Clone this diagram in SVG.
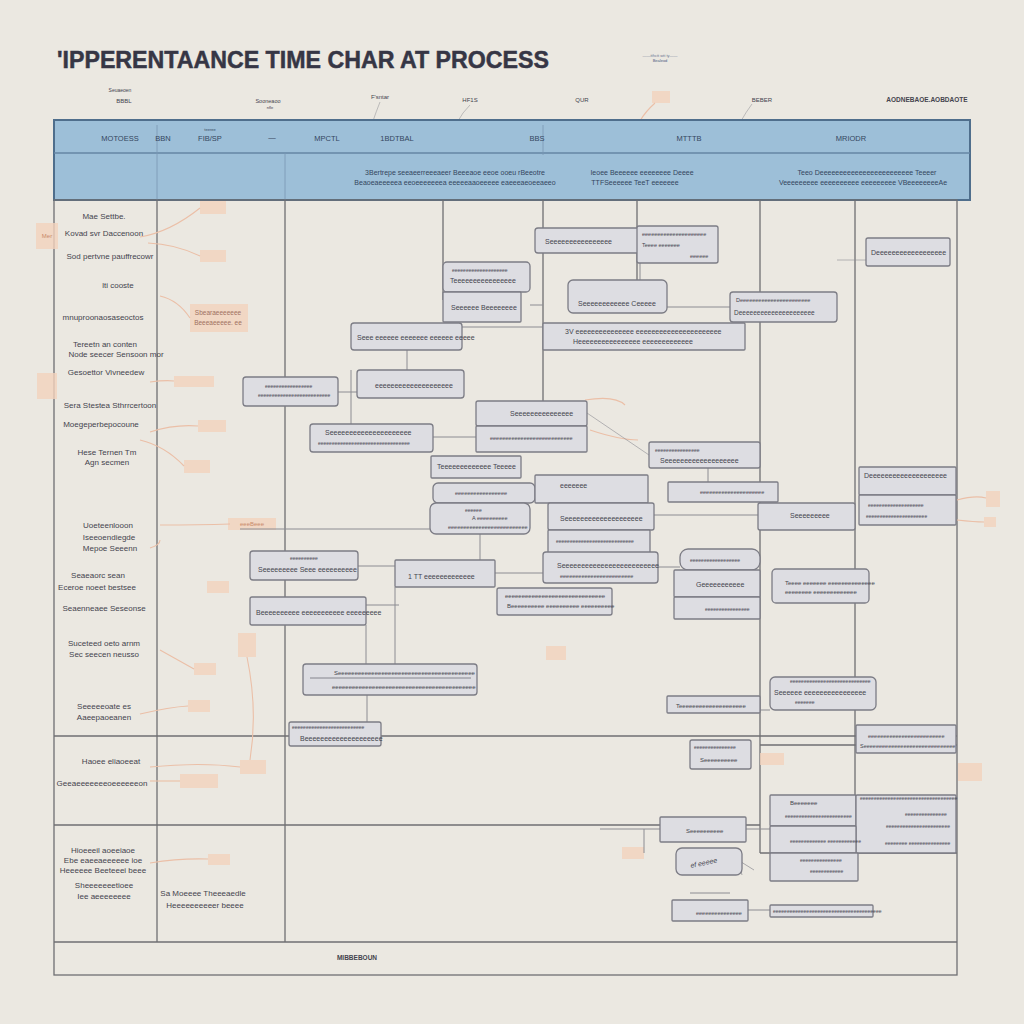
<svg xmlns="http://www.w3.org/2000/svg" width="1024" height="1024" viewBox="0 0 1024 1024">
<style>
.t{font-family:"Liberation Sans",Arial,sans-serif;fill:#45454f;font-size:7px}
.tl{font-family:"Liberation Sans",Arial,sans-serif;fill:#44444e;font-size:8px;text-anchor:middle}
.th{font-family:"Liberation Sans",Arial,sans-serif;fill:#34465e;font-size:7.5px;text-anchor:middle}
.to{font-family:"Liberation Sans",Arial,sans-serif;fill:#c98a6a;font-size:6px;text-anchor:middle}
.box{fill:#dddde2;stroke:#7c7c85;stroke-width:1.3}
.tag{fill:#f2d2bd;opacity:.8}
.grid{stroke:#6f6f72;stroke-width:1.3;fill:none}
.con{stroke:#8c8c92;stroke-width:1;fill:none}
.oc{stroke:#ebbfa7;stroke-width:1.1;fill:none}
.rule{stroke:#70707a;stroke-width:.8}
</style>
<rect width="1024" height="1024" fill="#ebe8e1"/>

<g id="title">
<text x="57" y="68" font-family="Liberation Sans,Arial,sans-serif" font-weight="bold" font-size="24" fill="#363645" stroke="#363645" stroke-width=".5" textLength="492" lengthAdjust="spacingAndGlyphs">'IPPERENTAANCE TIME CHAR AT PROCESS</text>
<text x="660" y="57" class="to" style="fill:#6a7590;font-size:4px">——tthctt wtt ty——</text>
<text x="660" y="62" class="to" style="fill:#4a5a80;font-size:4px">Bealeod</text>
</g>

<g id="top-labels">
<text x="120" y="92" class="tl" style="font-size:5px">Seuaeoen</text>
<text x="124" y="103" class="tl" style="font-size:6px">BBBL</text>
<text x="268" y="103" class="tl" style="font-size:5.5px">Sooneaoo</text>
<text x="270" y="109" class="tl" style="font-size:4px">nfle</text>
<text x="380" y="99" class="tl" style="font-size:6px">F'sntar</text>
<text x="470" y="102" class="tl" style="font-size:6px">HF1S</text>
<text x="582" y="102" class="tl" style="font-size:6px">QUR</text>
<rect x="652" y="91" width="18" height="12" class="tag"/>
<text x="762" y="102" class="tl" style="font-size:6px">BEBER</text>
<text x="927" y="102" class="tl" style="font-size:6.5px;font-weight:bold">AODNEBAOE.AOBDAOTE</text>
<path d="M655 103 Q645 112 640 121" class="oc"/>
<path d="M380 102 Q376 112 373 121" class="con" opacity=".5"/>
<path d="M470 105 Q462 113 458 121" class="con" opacity=".5"/>
<path d="M752 104 Q746 112 741 121" class="con" opacity=".5"/>
</g>

<g id="header">
<rect x="54" y="120" width="916" height="80" fill="#9dbfd8" stroke="#4f6e8c" stroke-width="2"/>
<line x1="54" y1="153" x2="970" y2="153" stroke="#6686a5" stroke-width="1.5"/>
<g stroke="#7a98b4" stroke-width=".8">
<line x1="157" y1="125" x2="157" y2="200"/><line x1="285" y1="153" x2="285" y2="200"/>
<line x1="543" y1="125" x2="543" y2="155"/>
</g>
<text x="120" y="141" class="th">MOTOESS</text>
<text x="163" y="141" class="th">BBN</text>
<text x="210" y="131" class="th" style="font-size:4px">teeree</text>
<text x="210" y="141" class="th">FIB/SP</text>
<text x="272" y="140" class="th">—</text>
<text x="327" y="141" class="th">MPCTL</text>
<text x="397" y="141" class="th">1BDTBAL</text>
<text x="537" y="141" class="th">BBS</text>
<text x="689" y="141" class="th">MTTTB</text>
<text x="851" y="141" class="th">MRIODR</text>
<text x="455" y="175" class="th" style="font-size:7px">3Bertrepe seeaeerreeeaeer Beeeaoe eeoe ooeu rBeeotre</text>
<text x="455" y="185" class="th" style="font-size:7px">Beaoeaeeeeea eeoeeeeeeea eeeeeaaoeeeee eaeeeaeoeeaeeo</text>
<text x="642" y="175" class="th" style="font-size:7px">Ieoee Beeeeee eeeeeeee Deeee</text>
<text x="635" y="185" class="th" style="font-size:7px">TTFSeeeeee TeeT eeeeeee</text>
<text x="867" y="175" class="th" style="font-size:7px">Teeo Deeeeeeeeeeeeeeeeeeeeeeee Teeeer</text>
<text x="863" y="185" class="th" style="font-size:7px">Veeeeeeeee eeeeeeeeee eeeeeeeee VBeeeeeeeeAe</text>
</g>

<g id="grid">
<rect x="54" y="200" width="903" height="775" class="grid"/>
<line x1="157" y1="200" x2="157" y2="942" class="grid"/>
<line x1="285" y1="200" x2="285" y2="942" class="grid"/>
<line x1="443" y1="200" x2="443" y2="300" class="grid" stroke-width="1"/>
<line x1="543" y1="200" x2="543" y2="420" class="grid" stroke-width="1"/>
<line x1="637" y1="200" x2="637" y2="290" class="grid" stroke-width="1"/>
<line x1="760" y1="200" x2="760" y2="853" class="grid" stroke-width="1"/>
<line x1="855" y1="200" x2="855" y2="855" class="grid" stroke-width="1"/>
<line x1="54" y1="736" x2="957" y2="736" class="grid"/>
<line x1="54" y1="825" x2="760" y2="825" class="grid"/>
<line x1="54" y1="942" x2="957" y2="942" class="grid"/>
<line x1="760" y1="745" x2="957" y2="745" class="grid" stroke-width="1"/>
<line x1="760" y1="853" x2="957" y2="853" class="grid" stroke-width="1"/>
<text x="357" y="960" class="tl" style="font-size:6.5px;font-weight:bold">MIBBEBOUN</text>
</g>

<g id="lane-labels">
<text x="104" y="219" class="tl">Mae Settbe.</text>
<text x="104" y="236" class="tl">Kovad svr Daccenoon</text>
<text x="110" y="259" class="tl">Sod pertvne pauffrecowr</text>
<text x="118" y="288" class="tl">lti cooste</text>
<text x="103" y="320" class="tl">mnuproonaosaseoctos</text>
<text x="105" y="347" class="tl">Tereetn an conten</text>
<text x="116" y="357" class="tl">Node seecer Sensoon mor</text>
<text x="106" y="375" class="tl">Gesoettor Vivneedew</text>
<text x="110" y="408" class="tl">Sera Stestea Sthrrcertoon</text>
<text x="101" y="427" class="tl">Moegeperbepocoune</text>
<text x="107" y="455" class="tl">Hese Ternen Tm</text>
<text x="107" y="465" class="tl">Agn  secmen</text>
<text x="108" y="528" class="tl">Uoeteenlooon</text>
<text x="109" y="540" class="tl">Iseeoendiegde</text>
<text x="110" y="551" class="tl">Mepoe Seeenn</text>
<text x="98" y="578" class="tl">Seaeaorc sean</text>
<text x="97" y="590" class="tl">Eceroe noeet bestsee</text>
<text x="104" y="611" class="tl">Seaenneaee Seseonse</text>
<text x="104" y="646" class="tl">Suceteed oeto arnm</text>
<text x="104" y="657" class="tl">Sec seecen neusso</text>
<text x="104" y="709" class="tl">Seeeeeoate es</text>
<text x="104" y="720" class="tl">Aaeepaoeanen</text>
<text x="111" y="764" class="tl">Haoee eliaoeeat</text>
<text x="102" y="786" class="tl">Geeaeeeeeeeoeeeeeeon</text>
<text x="103" y="853" class="tl">Hioeeeil aoeeiaoe</text>
<text x="103" y="863" class="tl">Ebe eaeeaeeeeee ioe</text>
<text x="103" y="873" class="tl">Heeeeee Beeteeei beee</text>
<text x="104" y="888" class="tl">Sheeeeeeetioee</text>
<text x="104" y="899" class="tl">Iee aeeeeeeee</text>
<text x="203" y="896" class="tl">Sa Moeeee Theeeaedle</text>
<text x="205" y="908" class="tl">Heeeeeeeeeer beeee</text>
</g>

<g id="tags">
<rect x="36" y="223" width="22" height="26" class="tag"/><text x="47" y="238" class="to">Mer</text>
<rect x="200" y="201" width="26" height="13" class="tag"/>
<rect x="200" y="250" width="26" height="12" class="tag"/>
<rect x="190" y="304" width="58" height="28" class="tag"/>
<text x="218" y="315" class="to" style="fill:#a07060;font-size:6.5px">Sbearaeeeeeee</text>
<text x="218" y="325" class="to" style="fill:#a07060;font-size:6.5px">Beeeaeeeee. ee</text>
<rect x="37" y="373" width="20" height="26" class="tag"/>
<rect x="174" y="376" width="40" height="11" class="tag"/>
<rect x="198" y="420" width="28" height="12" class="tag"/>
<rect x="184" y="460" width="26" height="13" class="tag"/>
<rect x="228" y="518" width="48" height="12" class="tag"/><text x="252" y="526" class="to">eeeBeee</text>
<rect x="207" y="581" width="22" height="12" class="tag"/>
<rect x="238" y="633" width="18" height="24" class="tag"/>
<rect x="194" y="663" width="22" height="12" class="tag"/>
<rect x="188" y="700" width="22" height="12" class="tag"/>
<rect x="240" y="760" width="26" height="14" class="tag"/>
<rect x="180" y="774" width="38" height="14" class="tag"/>
<rect x="208" y="854" width="22" height="11" class="tag"/>
<rect x="546" y="646" width="20" height="14" class="tag"/>
<rect x="760" y="753" width="24" height="12" class="tag"/>
<rect x="622" y="847" width="22" height="12" class="tag"/>
<rect x="958" y="763" width="24" height="18" class="tag"/>
<rect x="986" y="491" width="14" height="16" class="tag"/>
<rect x="984" y="517" width="12" height="10" class="tag"/>
<rect x="813" y="575" width="14" height="12" class="tag"/>
</g>

<g id="connectors">
<path d="M140 237 Q170 232 200 208" class="oc"/>
<path d="M148 243 Q175 244 200 256" class="oc"/>
<path d="M160 296 Q178 300 190 318" class="oc"/>
<path d="M150 382 Q165 380 174 381" class="oc"/>
<path d="M150 432 Q175 424 198 426" class="oc"/>
<path d="M140 440 Q165 446 184 466" class="oc"/>
<path d="M150 548 Q160 545 160 540" class="oc"/>
<path d="M160 650 Q185 664 194 669" class="oc"/>
<path d="M140 714 Q170 707 188 706" class="oc"/>
<path d="M247 657 Q258 710 250 760" class="oc"/>
<path d="M150 767 Q200 762 240 767" class="oc"/>
<path d="M150 781 Q170 781 180 781" class="oc"/>
<path d="M150 863 Q180 858 208 859" class="oc"/>
<path d="M230 524 Q200 525 160 525" class="oc"/>
<path d="M585 400 Q615 395 625 405" class="oc"/>
<path d="M590 430 Q620 440 638 440" class="oc"/>
<path d="M957 520 Q975 522 984 522" class="oc"/>
<path d="M957 500 Q975 495 986 498" class="oc"/>

<line x1="407" y1="350" x2="407" y2="370" class="con"/>
<line x1="338" y1="392" x2="357" y2="392" class="con"/>
<line x1="351" y1="370" x2="351" y2="425" class="con"/>
<line x1="462" y1="327" x2="543" y2="327" class="con"/>
<line x1="530" y1="305" x2="543" y2="305" class="con"/>
<line x1="433" y1="437" x2="476" y2="437" class="con"/>
<line x1="587" y1="413" x2="649" y2="455" class="con" opacity=".6"/>
<line x1="240" y1="529" x2="430" y2="529" class="con"/>
<line x1="480" y1="534" x2="480" y2="560" class="con"/>
<line x1="358" y1="566" x2="395" y2="566" class="con"/>
<line x1="366" y1="605" x2="399" y2="605" class="con"/>
<line x1="366" y1="625" x2="366" y2="664" class="con"/>
<line x1="395" y1="587" x2="395" y2="664" class="con"/>
<line x1="367" y1="695" x2="367" y2="722" class="con"/>
<line x1="495" y1="573" x2="543" y2="573" class="con"/>
<line x1="654" y1="515" x2="758" y2="515" class="con"/>
<line x1="658" y1="567" x2="680" y2="567" class="con"/>
<line x1="715" y1="583" x2="715" y2="597" class="con"/>
<line x1="708" y1="468" x2="708" y2="482" class="con"/>
<line x1="667" y1="307" x2="730" y2="307" class="con"/>
<line x1="837" y1="260" x2="866" y2="260" class="con" opacity=".6"/>
<line x1="640" y1="258" x2="640" y2="280" class="con"/>
<line x1="760" y1="710" x2="770" y2="710" class="con"/>
<line x1="746" y1="829" x2="770" y2="829" class="con"/>
<line x1="660" y1="829" x2="600" y2="829" class="con"/>
<line x1="644" y1="829" x2="644" y2="853" class="con"/>
<line x1="748" y1="910" x2="770" y2="910" class="con"/>
<path d="M742 875 L738 860 L754 870" class="con" opacity=".7"/>
<line x1="690" y1="893" x2="730" y2="893" class="con"/>
</g>

<g id="n1"><rect x="535" y="228" width="108" height="25" rx="3" class="box"/><text x="545" y="244" class="t">Seeeeeeeeeeeeeeee</text></g>
<g id="n2"><rect x="637" y="226" width="81" height="37" rx="2" class="box"/><text x="642" y="236" class="t" style="font-size:5.5px">eeeeeeeeeeeeeeeeeeeee</text><text x="642" y="247" class="t" style="font-size:5.5px">Teeee eeeeeee</text><text x="690" y="258" class="t" style="font-size:5.5px">eeeeee</text></g>
<g id="n3"><rect x="443" y="262" width="87" height="30" rx="4" class="box"/><text x="452" y="272" class="t" style="font-size:5px">eeeeeeeeeeeeeeeeeeee</text><text x="450" y="283" class="t">Teeeeeeeeeeeeeeee</text></g>
<g id="n4"><rect x="443" y="292" width="78" height="30" rx="1" class="box"/><text x="451" y="310" class="t">Seeeeee Beeeeeeee</text></g>
<g id="n5"><rect x="568" y="280" width="99" height="33" rx="5" class="box"/><text x="578" y="306" class="t">Seeeeeeeeeeee  Ceeeee</text></g>
<g id="n6"><rect x="730" y="292" width="107" height="30" rx="3" class="box"/><text x="736" y="302" class="t" style="font-size:5.5px">Deeeeeeeeeeeeeeeeeeeeeee</text><text x="734" y="315" class="t" style="font-size:6.5px">Deeeeeeeeeeeeeeeeeeeee</text></g>
<g id="n7"><rect x="866" y="238" width="84" height="28" rx="2" class="box"/><text x="871" y="255" class="t">Deeeeeeeeeeeeeeeeee</text></g>
<g id="n8"><rect x="351" y="323" width="111" height="27" rx="3" class="box"/><text x="357" y="340" class="t">Seee eeeeee eeeeeee eeeeee eeeee</text></g>
<g id="n9"><rect x="543" y="323" width="202" height="27" rx="1" class="box"/><text x="565" y="334" class="t">3V eeeeeeeeeeeeeee eeeeeeeeeeeeeeeeeeeeee</text><text x="573" y="344" class="t">Heeeeeeeeeeeeeeee eeeeeeeeeeeee</text></g>
<g id="n10"><rect x="243" y="377" width="95" height="29" rx="3" class="box"/><text x="265" y="388" class="t" style="font-size:5px">eeeeeeeeeeeeeeeee</text><text x="258" y="397" class="t" style="font-size:5px">eeeeeeeeeeeeeeeeeeeeeeeeee</text></g>
<g id="n11"><rect x="357" y="370" width="107" height="28" rx="3" class="box"/><text x="375" y="388" class="t">eeeeeeeeeeeeeeeeeeee</text></g>
<g id="n12"><rect x="476" y="401" width="111" height="25" rx="2" class="box"/><text x="510" y="416" class="t">Seeeeeeeeeeeeeee</text></g>
<g id="n13"><rect x="476" y="426" width="111" height="26" rx="1" class="box"/><text x="490" y="440" class="t" style="font-size:5.5px">eeeeeeeeeeeeeeeeeeeeeeeeeee</text></g>
<g id="n14"><rect x="310" y="424" width="123" height="28" rx="3" class="box"/><text x="325" y="435" class="t">Seeeeeeeeeeeeeeeeeeeee</text><text x="318" y="445" class="t" style="font-size:5px">eeeeeeeeeeeeeeeeeeeeeeeeeeeeeeeee</text></g>
<g id="n15"><rect x="431" y="456" width="90" height="22" rx="1" class="box"/><text x="437" y="469" class="t">Teeeeeeeeeeeee Teeeee</text></g>
<g id="n16"><rect x="649" y="442" width="111" height="26" rx="2" class="box"/><text x="655" y="452" class="t" style="font-size:5px">eeeeeeeeeeeeeeee</text><text x="660" y="463" class="t">Seeeeeeeeeeeeeeeeeee</text></g>
<g id="n17"><rect x="668" y="482" width="110" height="20" rx="1" class="box"/><text x="700" y="494" class="t" style="font-size:5.5px">eeeeeeeeeeeeeeeeeeeee</text></g>
<g id="n18"><rect x="859" y="467" width="97" height="28" rx="1" class="box"/><text x="864" y="478" class="t">Deeeeeeeeeeeeeeeeeeee</text></g>
<g id="n19"><rect x="859" y="495" width="97" height="30" rx="1" class="box"/><text x="868" y="507" class="t" style="font-size:5px">eeeeeeeeeeeeeeeeeeee</text><text x="866" y="518" class="t" style="font-size:5px">eeeeeeeeeeeeeeeeeeeeee</text></g>
<g id="n20"><rect x="433" y="483" width="102" height="20" rx="5" class="box"/><text x="455" y="495" class="t" style="font-size:5.5px">eeeeeeeeeeeeeeeee</text></g>
<g id="n21"><rect x="535" y="475" width="113" height="28" rx="1" class="box"/><text x="560" y="488" class="t">eeeeeee</text></g>
<g id="n22"><rect x="430" y="503" width="100" height="31" rx="6" class="box"/><text x="465" y="512" class="t" style="font-size:5px">eeeeee</text><text x="472" y="520" class="t" style="font-size:5.5px">A   eeeeeeeeee</text><text x="448" y="529" class="t" style="font-size:5.5px">eeeeeeeeeeeeeeeeeeeeeeeeee</text></g>
<g id="n23"><rect x="548" y="503" width="106" height="27" rx="2" class="box"/><text x="560" y="521" class="t">Seeeeeeeeeeeeeeeeeeee</text></g>
<g id="n24"><rect x="548" y="530" width="102" height="23" rx="1" class="box"/><text x="556" y="543" class="t" style="font-size:5px">eeeeeeeeeeeeeeeeeeeeeeeeeeee</text></g>
<g id="n25"><rect x="758" y="503" width="97" height="27" rx="2" class="box"/><text x="790" y="518" class="t">Seeeeeeeee</text></g>
<g id="n26"><rect x="250" y="551" width="108" height="29" rx="3" class="box"/><text x="290" y="560" class="t" style="font-size:5px">eeeeeeeeee</text><text x="258" y="572" class="t">Seeeeeeeee Seee eeeeeeeeee</text></g>
<g id="n27"><rect x="395" y="560" width="100" height="27" rx="1" class="box"/><text x="408" y="579" class="t">1 TT eeeeeeeeeeeee</text></g>
<g id="n28"><rect x="543" y="552" width="115" height="31" rx="3" class="box"/><text x="557" y="568" class="t">Seeeeeeeeeeeeeeeeeeeeeeeee</text><text x="560" y="578" class="t" style="font-size:5.5px">eeeeeeeeeeeeeeeeeeeeeeee</text></g>
<g id="n29"><rect x="680" y="549" width="80" height="21" rx="8" class="box"/><text x="690" y="562" class="t" style="font-size:5px">eeeeeeeeeeeeeeeeee</text></g>
<g id="n30"><rect x="674" y="570" width="86" height="27" rx="1" class="box"/><text x="696" y="587" class="t">Geeeeeeeeeee</text></g>
<g id="n31"><rect x="674" y="597" width="86" height="22" rx="1" class="box"/><text x="705" y="611" class="t" style="font-size:5px">eeeeeeeeeeeeeeee</text></g>
<g id="n32"><rect x="772" y="569" width="97" height="34" rx="4" class="box"/><text x="785" y="585" class="t" style="font-size:6px">Teeee eeeeeee eeeeeeeeeeeeee</text><text x="785" y="594" class="t" style="font-size:6px">eeeeeeee eeeeeeeeeeeee</text></g>
<g id="n33"><rect x="250" y="597" width="116" height="28" rx="2" class="box"/><text x="256" y="615" class="t">Beeeeeeeeee eeeeeeeeeee eeeeeeeee</text></g>
<g id="n34"><rect x="497" y="588" width="115" height="27" rx="2" class="box"/><text x="505" y="598" class="t" style="font-size:6px">eeeeeeeeeeeeeeeeeeeeeeeeeeeeee</text><text x="507" y="608" class="t" style="font-size:6px">Beeeeeeeeee eeeeeeeeee eeeeeeeeee</text></g>
<g id="n35"><rect x="303" y="664" width="174" height="31" rx="3" class="box"/><text x="334" y="675" class="t" style="font-size:6px">Seeeeeeeeeeeeeeeeeeeeeeeeeeeeeeeeeeeeeeeee</text><line x1="310" y1="678" x2="471" y2="678" class="rule"/><text x="332" y="689" class="t" style="font-size:6px">eeeeeeeeeeeeeeeeeeeeeeeeeeeeeeeeeeeeeeeeeee</text></g>
<g id="n36"><rect x="667" y="696" width="93" height="17" rx="1" class="box"/><text x="676" y="708" class="t" style="font-size:6px">Teeeeeeeeeeeeeeeeeeee</text></g>
<g id="n37"><rect x="770" y="677" width="106" height="33" rx="5" class="box"/><text x="790" y="683" class="t" style="font-size:5px">eeeeeeeeeeeeeeeeeeeeeeeeeeeee</text><text x="774" y="695" class="t">Seeeeee eeeeeeeeeeeeeeee</text><text x="795" y="704" class="t" style="font-size:5px">eeeeeee</text></g>
<g id="n38"><rect x="289" y="722" width="92" height="24" rx="2" class="box"/><text x="292" y="729" class="t" style="font-size:5px">eeeeeeeeeeeeeeeeeeeeeeeeee</text><text x="300" y="741" class="t">Beeeeeeeeeeeeeeeeeeee</text></g>
<g id="n39"><rect x="690" y="740" width="61" height="29" rx="2" class="box"/><text x="694" y="749" class="t" style="font-size:5px">eeeeeeeeeeeeeee</text><text x="700" y="762" class="t" style="font-size:6px">Seeeeeeeeee</text></g>
<g id="n40"><rect x="856" y="725" width="100" height="28" rx="1" class="box"/><text x="868" y="738" class="t" style="font-size:5.5px">eeeeeeeeeeeeeeeeeeeeeeeee</text><text x="860" y="748" class="t" style="font-size:5.5px">Seeeeeeeeeeeeeeeeeeeeeeeeeeeeee</text></g>
<g id="n41"><rect x="770" y="795" width="86" height="31" rx="1" class="box"/><text x="790" y="805" class="t" style="font-size:6px">Beeeeeee</text><text x="785" y="818" class="t" style="font-size:5px">eeeeeeeeeeeeeeeeeeeeeeee</text></g>
<g id="n42"><rect x="856" y="795" width="100" height="58" rx="1" class="box"/><text x="860" y="800" class="t" style="font-size:5px">eeeeeeeeeeeeeeeeeeeeeeeeeeeeeeeeeee</text><text x="905" y="816" class="t" style="font-size:5px">eeeeeeeeeeeeeee</text><text x="886" y="828" class="t" style="font-size:5px">eeeeeeeeeeeeeeeeeeeeeee</text><text x="885" y="845" class="t" style="font-size:5px">eeeeeeee eeeeeeeeeeeeeee</text></g>
<g id="n43"><rect x="770" y="826" width="86" height="27" rx="1" class="box"/><text x="790" y="843" class="t" style="font-size:5px">eeeeeeeeeeeee eeeeeeeeeeee</text></g>
<g id="n44"><rect x="770" y="853" width="88" height="28" rx="1" class="box"/><text x="800" y="862" class="t" style="font-size:5px">eeeeeeeeeeeeeee</text><text x="810" y="873" class="t" style="font-size:5px">eeeeeeeeeeee</text></g>
<g id="n45"><rect x="660" y="817" width="86" height="25" rx="1" class="box"/><text x="686" y="833" class="t" style="font-size:6px">Seeeeeeeeee</text></g>
<g id="n46"><rect x="676" y="848" width="66" height="27" rx="6" class="box"/><text x="690" y="865" class="t" style="font-size:7px;font-style:italic" transform="rotate(-12 705 862)">ef eeeee</text></g>
<g id="n47"><rect x="672" y="900" width="76" height="21" rx="1" class="box"/><text x="696" y="915" class="t" style="font-size:5.5px">eeeeeeeeeeeeeee</text></g>
<g id="n48"><rect x="770" y="905" width="103" height="12" rx="1" class="box"/><text x="773" y="913" class="t" style="font-size:5px">eeeeeeeeeeeeeeeeeeeeeeeeeeeeeeeeeeeeeee</text></g>
</svg>
